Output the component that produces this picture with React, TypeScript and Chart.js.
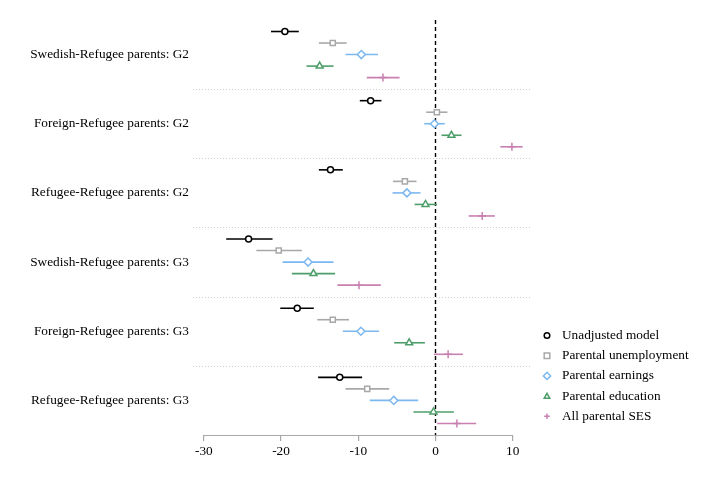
import React, { useEffect, useRef } from "react";
import { Chart, registerables } from "chart.js";

Chart.register(...registerables);

const groupLabels = [
  "Swedish-Refugee parents: G2",
  "Foreign-Refugee parents: G2",
  "Refugee-Refugee parents: G2",
  "Swedish-Refugee parents: G3",
  "Foreign-Refugee parents: G3",
  "Refugee-Refugee parents: G3",
];

const modelNames = [
  "Unadjusted model",
  "Parental unemployment",
  "Parental earnings",
  "Parental education",
  "All parental SES",
];

// estimates per model, in group order
const unadjustedEst = [-19.5, -8.4, -13.6, -24.2, -17.9, -12.4];
const unadjustedLo = [-21.3, -9.8, -15.1, -27.1, -20.1, -15.2];
const unadjustedHi = [-17.7, -7.0, -12.0, -21.1, -15.75, -9.5];

const unemploymentEst = [-13.3, 0.18, -3.96, -20.3, -13.3, -8.84];
const unemploymentLo = [-15.1, -1.2, -5.5, -23.2, -15.3, -11.65];
const unemploymentHi = [-11.5, 1.55, -2.46, -17.3, -11.2, -6.0];

const earningsEst = [-9.6, -0.13, -3.7, -16.5, -9.66, -5.4];
const earningsLo = [-11.65, -1.46, -5.56, -19.8, -12.0, -8.5];
const earningsHi = [-7.45, 1.2, -1.94, -13.2, -7.3, -2.24];

const educationEst = [-15.0, 2.07, -1.29, -15.8, -3.4, -0.26];
const educationLo = [-16.7, 0.78, -2.7, -18.6, -5.35, -2.85];
const educationHi = [-13.2, 3.37, 0.18, -13.0, -1.37, 2.38];

const allSesEst = [-6.8, 9.9, 6.05, -9.9, 1.64, 2.77];
const allSesLo = [-8.9, 8.4, 4.3, -12.7, -0.21, 0.22];
const allSesHi = [-4.65, 11.3, 7.7, -7.07, 3.55, 5.27];

const xTicks = [-30, -20, -10, 0, 10];

const estimates = [unadjustedEst, unemploymentEst, earningsEst, educationEst, allSesEst];
const lows = [unadjustedLo, unemploymentLo, earningsLo, educationLo, allSesLo];
const highs = [unadjustedHi, unemploymentHi, earningsHi, educationHi, allSesHi];

const colors = ["#000000", "#a8a8a8", "#7cb8f0", "#4e9e6a", "#c880b0"];
const pointStyles: any[] = ["circle", "rect", "rectRot", "triangle", "cross"];
const pointRadii = [3, 3.6, 4, 4, 4];

const ROWS_PER_GROUP = 6;
const rowPos = (g: number, m: number) => g * ROWS_PER_GROUP + m;
const groupCenter = (g: number) => g * ROWS_PER_GROUP + 2;

const FONT = "'Liberation Serif', 'Times New Roman', serif";

export default function App() {
  const ref = useRef<HTMLCanvasElement>(null);

  useEffect(() => {
    if (!ref.current) return;

    const datasets: any[] = [];
    // CI line datasets
    for (let m = 0; m < modelNames.length; m++) {
      for (let g = 0; g < groupLabels.length; g++) {
        datasets.push({
          type: "line",
          label: "ci",
          data: [
            { x: lows[m][g], y: rowPos(g, m) },
            { x: highs[m][g], y: rowPos(g, m) },
          ],
          borderColor: colors[m],
          borderWidth: 1.6,
          pointRadius: 0,
          pointHoverRadius: 0,
          fill: false,
          order: 2,
        });
      }
    }
    // marker datasets
    for (let m = 0; m < modelNames.length; m++) {
      datasets.push({
        type: "scatter",
        label: modelNames[m],
        data: estimates[m].map((v, g) => ({ x: v, y: rowPos(g, m) })),
        borderColor: colors[m],
        backgroundColor: "#ffffff",
        pointStyle: pointStyles[m],
        pointRadius: pointRadii[m],
        pointBorderWidth: 1.5,
        order: 1,
      });
    }

    const decorPlugin = {
      id: "decor",
      beforeDatasetsDraw(chart: any) {
        const { ctx, chartArea, scales } = chart;
        const xs = scales.x;
        const ys = scales.y;
        ctx.save();
        // dotted separators
        ctx.strokeStyle = "#d0d0d0";
        ctx.lineWidth = 1;
        ctx.setLineDash([1, 2]);
        for (let g = 0; g < groupLabels.length - 1; g++) {
          const y = Math.round(ys.getPixelForValue(g * ROWS_PER_GROUP + 5)) + 0.5;
          ctx.beginPath();
          ctx.moveTo(chartArea.left, y);
          ctx.lineTo(chartArea.right, y);
          ctx.stroke();
        }
        // zero dashed line
        const x0 = Math.round(xs.getPixelForValue(0)) + 0.5;
        ctx.strokeStyle = "#000000";
        ctx.lineWidth = 1.4;
        ctx.setLineDash([4, 3]);
        ctx.beginPath();
        ctx.moveTo(x0, chartArea.top);
        ctx.lineTo(x0, chartArea.bottom);
        ctx.stroke();
        ctx.restore();
      },
      afterDraw(chart: any) {
        const { ctx, chartArea, scales } = chart;
        const xs = scales.x;
        ctx.save();
        // x axis line only across tick range
        const yA = Math.round(chartArea.bottom) + 0.5;
        ctx.strokeStyle = "#a8a8a8";
        ctx.lineWidth = 1.2;
        ctx.beginPath();
        ctx.moveTo(xs.getPixelForValue(xTicks[0]), yA);
        ctx.lineTo(xs.getPixelForValue(xTicks[xTicks.length - 1]), yA);
        ctx.stroke();

        // legend
        const lx = chartArea.right + 15;
        const ly0 = 327.5;
        const step = 20.2;
        ctx.font = `13.3px ${FONT}`;
        ctx.textBaseline = "middle";
        ctx.textAlign = "left";
        for (let m = 0; m < modelNames.length; m++) {
          const y = ly0 + m * step;
          ctx.strokeStyle = colors[m];
          ctx.fillStyle = "#ffffff";
          ctx.lineWidth = 1.5;
          const r = 2.8;
          ctx.beginPath();
          if (m === 0) {
            ctx.arc(lx, y, r, 0, Math.PI * 2);
            ctx.fill();
            ctx.stroke();
          } else if (m === 1) {
            ctx.rect(lx - r, y - r, 2 * r, 2 * r);
            ctx.fill();
            ctx.stroke();
          } else if (m === 2) {
            ctx.moveTo(lx, y - r - 0.8);
            ctx.lineTo(lx + r + 0.8, y);
            ctx.lineTo(lx, y + r + 0.8);
            ctx.lineTo(lx - r - 0.8, y);
            ctx.closePath();
            ctx.fill();
            ctx.stroke();
          } else if (m === 3) {
            ctx.moveTo(lx, y - r);
            ctx.lineTo(lx + r, y + r * 0.8);
            ctx.lineTo(lx - r, y + r * 0.8);
            ctx.closePath();
            ctx.fill();
            ctx.stroke();
          } else {
            ctx.moveTo(lx - r, y);
            ctx.lineTo(lx + r, y);
            ctx.moveTo(lx, y - r);
            ctx.lineTo(lx, y + r);
            ctx.stroke();
          }
          ctx.fillStyle = "#000000";
          ctx.fillText(modelNames[m], lx + 15, y);
        }
        ctx.restore();
      },
    };

    const chart = new Chart(ref.current, {
      type: "scatter",
      data: { datasets },
      plugins: [decorPlugin],
      options: {
        animation: false,
        responsive: false,
        maintainAspectRatio: false,
        layout: { padding: { top: 8, right: 180, left: 0, bottom: 0 } },
        plugins: {
          legend: { display: false },
          tooltip: { enabled: false },
        },
        scales: {
          x: {
            type: "linear",
            min: -31.4,
            max: 12.5,
            border: { display: false },
            grid: {
              drawOnChartArea: false,
              drawTicks: true,
              tickLength: 6,
              color: "#a8a8a8",
              lineWidth: 1.2,
            },
            afterBuildTicks(scale: any) {
              scale.ticks = xTicks.map((v) => ({ value: v }));
            },
            afterFit(scale: any) {
              scale.height = 37;
            },
            ticks: {
              color: "#000000",
              font: { family: FONT, size: 13.3 },
              padding: 3,
              autoSkip: false,
              maxRotation: 0,
              callback: (v: any) => String(v),
            },
          },
          y: {
            type: "linear",
            reverse: true,
            min: -1,
            max: 35,
            border: { display: false },
            grid: { display: false, drawTicks: false },
            afterBuildTicks(scale: any) {
              scale.ticks = groupLabels.map((_, g) => ({ value: groupCenter(g) }));
            },
            afterFit(scale: any) {
              scale.width = 185;
            },
            ticks: {
              color: "#000000",
              font: { family: FONT, size: 13.3 },
              padding: 4,
              autoSkip: false,
              callback: (v: any) => {
                const g = Math.round((Number(v) - 2) / ROWS_PER_GROUP);
                return groupLabels[g] ?? "";
              },
            },
          },
        },
      },
    });
    return () => chart.destroy();
  }, []);

  return (
    <div style={{ width: 704, height: 464 }}>
      <canvas ref={ref} width={704} height={464} style={{ width: 704, height: 464 }} />
    </div>
  );
}
